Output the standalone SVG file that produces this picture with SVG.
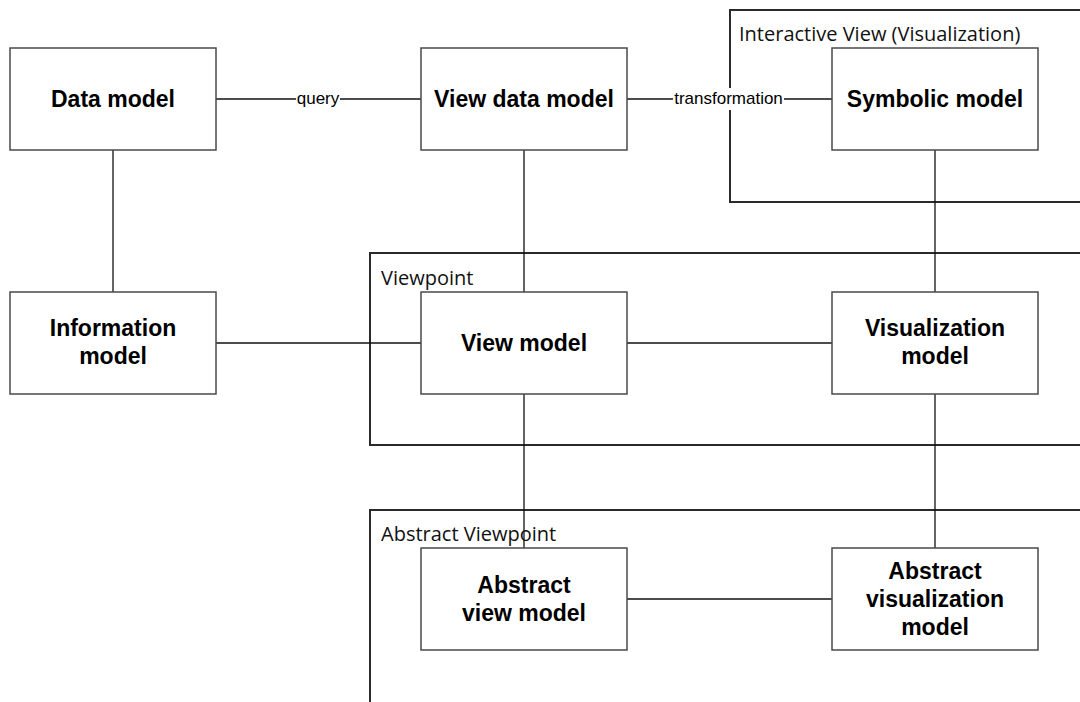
<svg xmlns="http://www.w3.org/2000/svg" width="1080" height="702" viewBox="0 0 1080 702">
  <style>
    .frame { fill: none; stroke: #2a2a2a; stroke-width: 2; }
    .frame-label { font-family: "Open Sans", "Noto Sans", sans-serif; font-size: 20px; fill: #111; }
    .node rect { fill: #fff; stroke: #4a4a4a; stroke-width: 1.5; }
    .node text { font-family: "Liberation Sans", Arial, sans-serif; font-size: 23px; font-weight: bold; fill: #000; text-anchor: middle; }
    .edge { stroke: #111; stroke-width: 1.3; fill: none; }
    .edge-label { font-family: "Liberation Sans", Arial, sans-serif; font-size: 17px; fill: #000; text-anchor: middle; }
    .label-bg { fill: #fff; }
  </style>

  <rect width="1080" height="702" fill="#fff"/>

  <!-- grouping frames -->
  <g id="frames">
    <g id="frame-interactive">
      <rect class="frame" x="730" y="10" width="370" height="192"/>
      <text class="frame-label" x="739" y="41">Interactive View (Visualization)</text>
    </g>
    <g id="frame-viewpoint">
      <rect class="frame" x="370" y="253" width="730" height="192"/>
      <text class="frame-label" x="381" y="285">Viewpoint</text>
    </g>
    <g id="frame-abstract">
      <rect class="frame" x="370" y="510" width="730" height="220"/>
      <text class="frame-label" x="381" y="541">Abstract Viewpoint</text>
    </g>
  </g>

  <!-- connectors -->
  <g id="connectors">
    <line class="edge" x1="216" y1="99" x2="421" y2="99"/>
    <line class="edge" x1="627" y1="99" x2="832" y2="99"/>
    <line class="edge" x1="113" y1="150" x2="113" y2="292"/>
    <line class="edge" x1="524" y1="150" x2="524" y2="292"/>
    <line class="edge" x1="935" y1="150" x2="935" y2="292"/>
    <line class="edge" x1="216" y1="343" x2="421" y2="343"/>
    <line class="edge" x1="627" y1="343" x2="832" y2="343"/>
    <line class="edge" x1="524" y1="394" x2="524" y2="548"/>
    <line class="edge" x1="935" y1="394" x2="935" y2="548"/>
    <line class="edge" x1="627" y1="599" x2="832" y2="599"/>

    <g id="edge-label-query">
      <rect class="label-bg" x="296" y="89" width="44" height="20"/>
      <text class="edge-label" x="318" y="104">query</text>
    </g>
    <g id="edge-label-transformation">
      <rect class="label-bg" x="673" y="88" width="111" height="22"/>
      <text class="edge-label" x="728.5" y="104">transformation</text>
    </g>
  </g>

  <!-- nodes -->
  <g id="node-data-model" class="node">
    <rect x="10" y="48" width="206" height="102"/>
    <text x="113" y="107">Data model</text>
  </g>
  <g id="node-view-data-model" class="node">
    <rect x="421" y="48" width="206" height="102"/>
    <text x="524" y="107">View data model</text>
  </g>
  <g id="node-symbolic-model" class="node">
    <rect x="832" y="48" width="206" height="102"/>
    <text x="935" y="107">Symbolic model</text>
  </g>
  <g id="node-information-model" class="node">
    <rect x="10" y="292" width="206" height="102"/>
    <text x="113" y="336">Information</text>
    <text x="113" y="364">model</text>
  </g>
  <g id="node-view-model" class="node">
    <rect x="421" y="292" width="206" height="102"/>
    <text x="524" y="351">View model</text>
  </g>
  <g id="node-visualization-model" class="node">
    <rect x="832" y="292" width="206" height="102"/>
    <text x="935" y="336">Visualization</text>
    <text x="935" y="364">model</text>
  </g>
  <g id="node-abstract-view-model" class="node">
    <rect x="421" y="548" width="206" height="102"/>
    <text x="524" y="593">Abstract</text>
    <text x="524" y="621">view model</text>
  </g>
  <g id="node-abstract-visualization-model" class="node">
    <rect x="832" y="548" width="206" height="102"/>
    <text x="935" y="579">Abstract</text>
    <text x="935" y="607">visualization</text>
    <text x="935" y="635">model</text>
  </g>
</svg>
